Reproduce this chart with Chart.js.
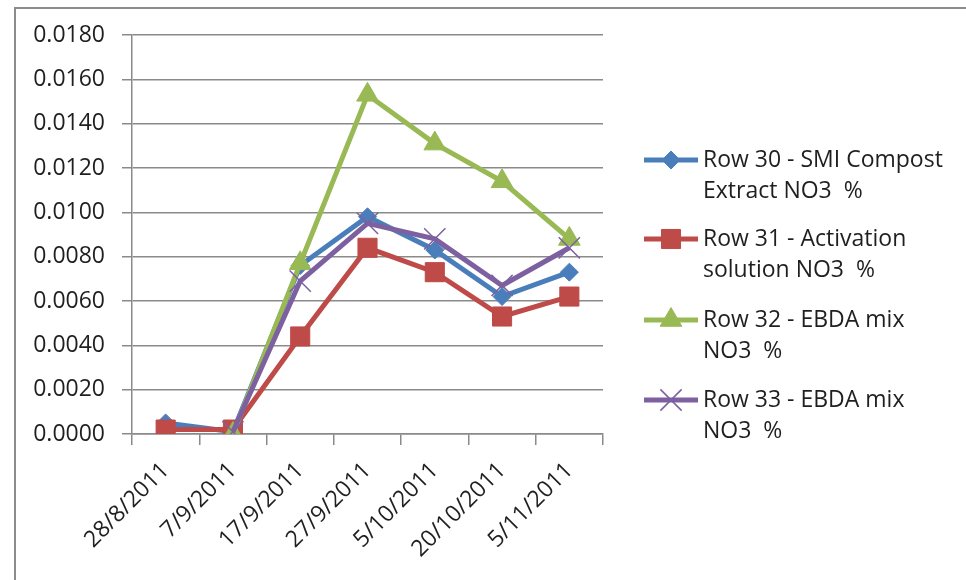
<!DOCTYPE html>
<html>
<head>
<meta charset="utf-8">
<script src="https://cdn.jsdelivr.net/npm/chart.js@4/dist/chart.umd.min.js"></script>
<style>
  html, body { margin: 0; padding: 0; background: #fff; }
  canvas { display: block; }
</style>
</head>
<body>
<canvas id="c" width="966" height="580"></canvas>
<script>
// Sampling dates (category axis)
const dates = ['28/8/2011', '7/9/2011', '17/9/2011', '27/9/2011', '5/10/2011', '20/10/2011', '5/11/2011'];

// NO3 % per sampling date
const row30 = [0.0005, 0.0001, 0.0076, 0.0098, 0.0083, 0.0062, 0.0073];
const row31 = [0.0002, 0.0002, 0.0044, 0.0084, 0.0073, 0.0053, 0.0062];
const row32 = [null, 0.0000, 0.0077, 0.0153, 0.0131, 0.0114, 0.0088];
const row33 = [null, 0.0001, 0.0069, 0.0095, 0.0088, 0.0067, 0.0084];

// Legend text, two lines each
const seriesNames = [
  ['Row 30 - SMI Compost', 'Extract NO3  %'],
  ['Row 31 - Activation', 'solution NO3  %'],
  ['Row 32 - EBDA mix', 'NO3  %'],
  ['Row 33 - EBDA mix', 'NO3  %']
];

// Value axis
const yMin = 0, yMax = 0.018, yStep = 0.002, yDecimals = 4;

const FONT = '"Open Sans", "Liberation Sans", sans-serif';
const TEXT = '#1f1f1f';
const GRID = '#8a8a8a';

function series(label, data, color, style, radius, bw, order) {
  return {
    label, data,
    borderColor: color, backgroundColor: color,
    borderWidth: 5,
    pointStyle: style, pointRadius: radius, pointHoverRadius: radius,
    pointBackgroundColor: color, pointBorderColor: color, pointBorderWidth: bw,
    tension: 0, order
  };
}

// Frame around the chart
const framePlugin = {
  id: 'frame',
  beforeDraw(chart) {
    const ctx = chart.ctx;
    ctx.save();
    ctx.strokeStyle = '#8c8c8c';
    ctx.lineWidth = 2;
    ctx.beginPath();
    ctx.moveTo(15, 580);
    ctx.lineTo(15, 8);
    ctx.lineTo(966, 8);
    ctx.stroke();
    ctx.restore();
  }
};

// Legend on the right with wrapped labels
const sideLegend = {
  id: 'sideLegend',
  afterDraw(chart) {
    const ctx = chart.ctx;
    const rowY = [160, 239, 320, 400];
    const x0 = 644, x1 = 698, xm = 671, xt = 703, lh = 31;
    chart.data.datasets.forEach((ds, i) => {
      const y = rowY[i];
      ctx.save();
      ctx.strokeStyle = ds.borderColor;
      ctx.lineWidth = 5;
      ctx.beginPath();
      ctx.moveTo(x0, y);
      ctx.lineTo(x1, y);
      ctx.stroke();
      ctx.fillStyle = ds.pointBackgroundColor;
      ctx.strokeStyle = ds.pointBorderColor;
      ctx.lineWidth = ds.pointBorderWidth;
      Chart.helpers.drawPoint(ctx, {
        pointStyle: ds.pointStyle, rotation: 0,
        radius: ds.pointRadius, borderWidth: ds.pointBorderWidth
      }, xm, y);
      ctx.fillStyle = TEXT;
      ctx.font = '23px ' + FONT;
      ctx.textAlign = 'left';
      ctx.textBaseline = 'middle';
      seriesNames[i].forEach((t, k) => ctx.fillText(t, xt, y + k * lh));
      ctx.restore();
    });
  }
};

new Chart(document.getElementById('c'), {
  type: 'line',
  data: {
    labels: dates,
    datasets: [
      series(seriesNames[0].join(' '), row30, '#4A7EBB', 'rectRot', 9, 1, 4),
      series(seriesNames[1].join(' '), row31, '#BE4B48', 'rect', 13.5, 1, 3),
      series(seriesNames[2].join(' '), row32, '#98B954', 'triangle', 12.5, 1, 2),
      series(seriesNames[3].join(' '), row33, '#7D60A0', 'crossRot', 15, 1.5, 1)
    ]
  },
  options: {
    responsive: false,
    animation: false,
    events: [],
    layout: { padding: { top: 35, right: 363, left: 0, bottom: 0 } },
    plugins: { legend: { display: false }, tooltip: { enabled: false } },
    scales: {
      x: {
        type: 'category',
        offset: true,
        grid: { offset: true, drawOnChartArea: false, drawTicks: true, tickLength: 11, color: GRID, lineWidth: 1.5 },
        border: { color: GRID, width: 1.5 },
        ticks: {
          autoSkip: false, minRotation: 45, maxRotation: 45, padding: 12,
          color: TEXT, font: { family: FONT, size: 23 }
        },
        afterFit(s) { s.height = 146; }
      },
      y: {
        min: yMin, max: yMax,
        grid: { color: GRID, lineWidth: 1.5, tickLength: 10 },
        border: { color: GRID, width: 1.5 },
        ticks: {
          stepSize: yStep, padding: 17,
          color: TEXT, font: { family: FONT, size: 23 },
          callback: v => v.toFixed(yDecimals)
        },
        afterFit(s) { s.width = 132; }
      }
    }
  },
  plugins: [framePlugin, sideLegend]
});
</script>
</body>
</html>
